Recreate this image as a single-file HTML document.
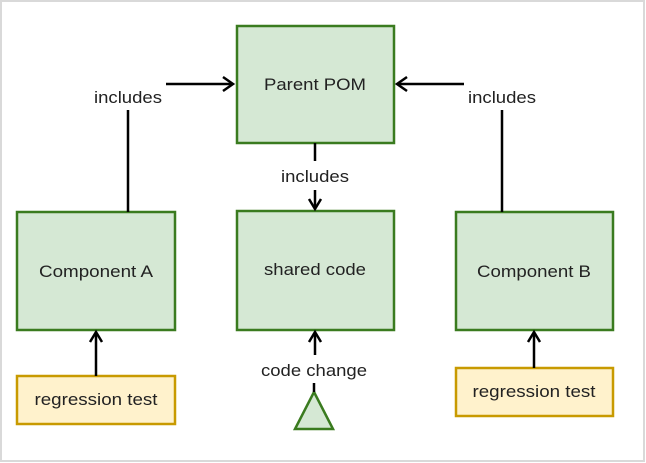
<!DOCTYPE html>
<html><head><meta charset="utf-8"><style>
html,body{margin:0;padding:0;background:#fff}
svg{display:block}
text{font-family:"Liberation Sans",Arial,sans-serif;font-size:16.5px;fill:#222}
</style></head><body>
<svg width="646" height="463" viewBox="0 0 646 463" xmlns="http://www.w3.org/2000/svg">
<rect x="1" y="1" width="643" height="460" fill="#fff" stroke="#d9d9d9" stroke-width="2"/>
<g fill="#d5e8d4" stroke="#3a7b1f" stroke-width="2.5">
<rect x="237" y="26" width="157" height="117"/>
<rect x="17" y="212" width="158" height="118"/>
<rect x="237" y="211" width="157" height="119"/>
<rect x="456" y="212" width="157" height="118"/>
<polygon points="314,392 333,429 295,429"/>
</g>
<g fill="#fff2cc" stroke="#c89a00" stroke-width="2.5">
<rect x="17" y="376" width="158" height="48"/>
<rect x="456" y="368" width="157" height="48"/>
</g>
<g stroke="#000" stroke-width="2.5" fill="none">
<line x1="128" y1="212" x2="128" y2="110"/>
<line x1="166" y1="84" x2="233" y2="84"/>
<polyline points="223,77 233,84 223,91"/>
<line x1="502" y1="212" x2="502" y2="110"/>
<line x1="464" y1="84" x2="397" y2="84"/>
<polyline points="407,77 397,84 407,91"/>
<line x1="315" y1="143" x2="315" y2="161"/>
<line x1="315" y1="190" x2="315" y2="208"/>
<polyline points="309,199 315,209 321,199"/>
<line x1="96" y1="376" x2="96" y2="333"/>
<polyline points="90,342 96,332 102,342"/>
<line x1="534" y1="368" x2="534" y2="333"/>
<polyline points="528,342 534,332 540,342"/>
<line x1="315" y1="355" x2="315" y2="333"/>
<polyline points="309,342 315,332 321,342"/>
<line x1="314" y1="383" x2="314" y2="392"/>
</g>
<g text-anchor="middle">
<text x="315" y="90" textLength="102" lengthAdjust="spacingAndGlyphs">Parent POM</text>
<text x="128" y="103" textLength="68" lengthAdjust="spacingAndGlyphs">includes</text>
<text x="502" y="103" textLength="68" lengthAdjust="spacingAndGlyphs">includes</text>
<text x="315" y="182" textLength="68" lengthAdjust="spacingAndGlyphs">includes</text>
<text x="96" y="277" textLength="114" lengthAdjust="spacingAndGlyphs">Component A</text>
<text x="315" y="275" textLength="102" lengthAdjust="spacingAndGlyphs">shared code</text>
<text x="534" y="277" textLength="114" lengthAdjust="spacingAndGlyphs">Component B</text>
<text x="96" y="405" textLength="123" lengthAdjust="spacingAndGlyphs">regression test</text>
<text x="534" y="397" textLength="123" lengthAdjust="spacingAndGlyphs">regression test</text>
<text x="314" y="376" textLength="106" lengthAdjust="spacingAndGlyphs">code change</text>
</g>
</svg>
</body></html>
